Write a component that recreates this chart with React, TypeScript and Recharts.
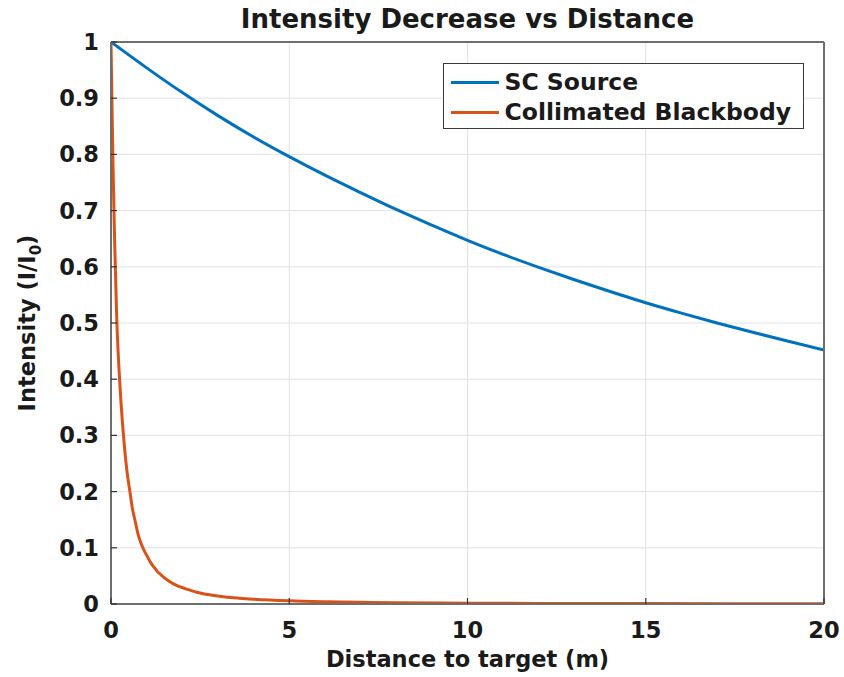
import React from "react";
import { LineChart, Line, XAxis, YAxis, CartesianGrid, Legend, Label } from "recharts";

// ---- data ----
const scDistance = [0, 1, 2, 3, 4, 5, 6, 7, 8, 9, 10, 11, 12, 13, 14, 15, 16, 17, 18, 19, 20];
const scIntensity = [1.0, 0.954, 0.91, 0.869, 0.831, 0.796, 0.763, 0.732, 0.702, 0.674, 0.647, 0.622, 0.599, 0.577, 0.556, 0.536, 0.5175, 0.5, 0.4835, 0.4675, 0.452];

const bbDistance = [0, 0.03, 0.06, 0.1, 0.16, 0.25, 0.35, 0.45, 0.53, 0.6, 0.68, 0.76, 0.86, 0.93, 1.0, 1.1, 1.2, 1.3, 1.4, 1.6, 1.84, 2.1, 2.4, 2.8, 3.2, 3.6, 4, 5, 6, 7, 8, 10, 12, 15, 20];
const bbIntensity = [1, 0.88, 0.77, 0.65, 0.51, 0.39, 0.3, 0.235, 0.2, 0.17, 0.147, 0.124, 0.105, 0.095, 0.087, 0.075, 0.066, 0.058, 0.052, 0.042, 0.033, 0.027, 0.021, 0.016, 0.0125, 0.0103, 0.0086, 0.0057, 0.0041, 0.0031, 0.0024, 0.0015, 0.0011, 0.0007, 0.0004];

const xTicks = [0, 5, 10, 15, 20];
const xTickLabels = ["0", "5", "10", "15", "20"];
const yTicks = [0, 0.1, 0.2, 0.3, 0.4, 0.5, 0.6, 0.7, 0.8, 0.9, 1];
const yTickLabels = ["0", "0.1", "0.2", "0.3", "0.4", "0.5", "0.6", "0.7", "0.8", "0.9", "1"];

const seriesNames = ["SC Source", "Collimated Blackbody"];
const seriesColors = ["#0072BD", "#D95319"];

const titleText = "Intensity Decrease vs Distance";
const xLabelText = "Distance to target (m)";

const scData = scDistance.map((d, i) => ({ d, v: scIntensity[i] }));
const bbData = bbDistance.map((d, i) => ({ d, v: bbIntensity[i] }));

const FONT = "'DejaVu Sans', sans-serif";
const TEXT = "#1a1a1a";
const AXIS = { stroke: "#6e6e6e", strokeWidth: 2 };
const TICK_COLOR = "#333";
const TICK_LEN = 6;

const LeftTick = (p: any) => {
  const { x, y, index } = p;
  return (
    <g>
      <line x1={x} x2={x + TICK_LEN} y1={y} y2={y} stroke={TICK_COLOR} strokeWidth={1.2} />
      <text x={x - 12} y={y + 8} textAnchor="end" fontFamily={FONT} fontWeight="bold" fontSize={22.5} fill={TEXT}>
        {yTickLabels[index]}
      </text>
    </g>
  );
};
const RightTick = (p: any) => {
  const { x, y } = p;
  return <line x1={x - TICK_LEN} x2={x} y1={y} y2={y} stroke={TICK_COLOR} strokeWidth={1.2} />;
};
const BottomTick = (p: any) => {
  const { x, y, index } = p;
  return (
    <g>
      <line x1={x} x2={x} y1={y} y2={y - TICK_LEN} stroke={TICK_COLOR} strokeWidth={1.2} />
      <text x={x} y={y + 34} textAnchor="middle" fontFamily={FONT} fontWeight="bold" fontSize={22.5} fill={TEXT}>
        {xTickLabels[index]}
      </text>
    </g>
  );
};
const TopTick = (p: any) => {
  const { x, y } = p;
  return <line x1={x} x2={x} y1={y} y2={y + TICK_LEN} stroke={TICK_COLOR} strokeWidth={1.2} />;
};

const TitleContent = (p: any) => {
  const vb = p.viewBox || {};
  return (
    <text x={vb.x + vb.width / 2} y={28} textAnchor="middle" fontFamily={FONT} fontWeight="bold" fontSize={26} fill={TEXT}>
      {titleText}
    </text>
  );
};
const XLabelContent = (p: any) => {
  const vb = p.viewBox || {};
  return (
    <text x={vb.x + vb.width / 2} y={667} textAnchor="middle" fontFamily={FONT} fontWeight="bold" fontSize={22.5} fill={TEXT}>
      {xLabelText}
    </text>
  );
};
const YLabelContent = (p: any) => {
  const vb = p.viewBox || {};
  const cx = 35;
  const cy = vb.y + vb.height / 2;
  return (
    <text x={cx} y={cy} transform={`rotate(-90, ${cx}, ${cy})`} textAnchor="middle" fontFamily={FONT} fontWeight="bold" fontSize={22.5} fill={TEXT}>
      Intensity (I/I
      <tspan dy={6} fontSize={15}>0</tspan>
      <tspan dy={-6}>)</tspan>
    </text>
  );
};

const LegendContent = () => (
  <div
    style={{
      boxSizing: "border-box",
      width: 361,
      height: 66,
      border: "1.5px solid #3a3a3a",
      background: "#fff",
      padding: "3px 0",
      fontFamily: FONT,
      fontWeight: "bold",
      fontSize: 23.5,
      color: TEXT,
    }}
  >
    {seriesNames.map((n, i) => (
      <div key={n} style={{ display: "flex", alignItems: "center", height: 30, whiteSpace: "nowrap" }}>
        <span style={{ display: "inline-block", width: 48, height: 3, background: seriesColors[i], marginLeft: 6.5, marginRight: 6 }} />
        <span>{n}</span>
      </div>
    ))}
  </div>
);

export default function App() {
  return (
    <div style={{ position: "absolute", left: 0, top: 0, width: 844, height: 677, background: "#fff" }}>
      <LineChart width={844} height={677} margin={{ top: 41, right: 19, bottom: 72, left: 110 }}>
        <CartesianGrid stroke="#e2e2e2" strokeWidth={1} horizontalValues={yTicks} verticalValues={xTicks} />
        <Line
          data={scData}
          dataKey="v"
          name={seriesNames[0]}
          type="monotone"
          stroke={seriesColors[0]}
          strokeWidth={3}
          dot={false}
          isAnimationActive={false}
        />
        <Line
          data={bbData}
          dataKey="v"
          name={seriesNames[1]}
          type="monotone"
          stroke={seriesColors[1]}
          strokeWidth={3}
          dot={false}
          isAnimationActive={false}
        />
        <XAxis
          dataKey="d"
          type="number"
          domain={[0, 20]}
          ticks={xTicks}
          height={1}
          tickSize={0}
          tickMargin={0}
          tickLine={false}
          tick={<BottomTick />}
          axisLine={AXIS}
          allowDataOverflow
        >
          <Label content={<XLabelContent />} />
        </XAxis>
        <XAxis
          xAxisId="top"
          orientation="top"
          type="number"
          domain={[0, 20]}
          ticks={xTicks}
          height={1}
          tickSize={0}
          tickMargin={0}
          tickLine={false}
          tick={<TopTick />}
          axisLine={AXIS}
        >
          <Label content={<TitleContent />} />
        </XAxis>
        <YAxis
          type="number"
          domain={[0, 1]}
          ticks={yTicks}
          width={1}
          tickSize={0}
          tickMargin={0}
          tickLine={false}
          tick={<LeftTick />}
          axisLine={AXIS}
          allowDataOverflow
        >
          <Label content={<YLabelContent />} />
        </YAxis>
        <YAxis
          yAxisId="right"
          orientation="right"
          type="number"
          domain={[0, 1]}
          ticks={yTicks}
          width={1}
          tickSize={0}
          tickMargin={0}
          tickLine={false}
          tick={<RightTick />}
          axisLine={AXIS}
        />
        <Legend
          layout="vertical"
          align="center"
          verticalAlign="middle"
          content={<LegendContent />}
          wrapperStyle={{ position: "absolute", left: 443, top: 63, width: 361, height: 66 }}
        />
      </LineChart>
    </div>
  );
}
